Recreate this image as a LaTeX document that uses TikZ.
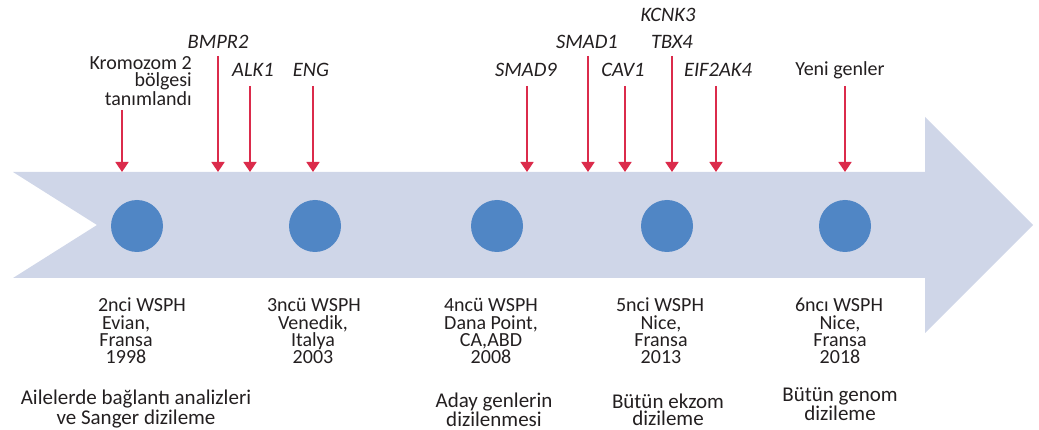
\documentclass[tikz,border=0pt]{standalone}
\usepackage{fontspec}
\setmainfont{Carlito}
\usetikzlibrary{arrows.meta}
\definecolor{bandfill}{HTML}{CFD6E8}
\definecolor{dotfill}{HTML}{5086C5}
\definecolor{pinred}{HTML}{DB2B4B}
\definecolor{ink}{HTML}{231F20}
\tikzset{
  txt/.style={text=ink, inner sep=0pt, align=center, font=\fontsize{20}{17}\selectfont},
  desc/.style={txt, font=\fontsize{21}{17.5}\selectfont},
  gene/.style={text=ink, inner sep=0pt, font=\fontsize{20.5}{18}\selectfont\itshape},
  pin/.style={draw=pinred, line width=1.6pt, -{Triangle[width=13pt,length=10pt]}},
  dot/.style={circle, fill=dotfill, draw=none, minimum size=52pt, inner sep=0pt},
}
\begin{document}
\begin{tikzpicture}[x=1pt, y=-1pt]
\useasboundingbox (0,0) rectangle (1039,430);

% timeline band with notched tail and arrow head
\fill[bandfill] (13,172) -- (925,172) -- (925,117) -- (1033,225) -- (925,333)
  -- (925,278) -- (13,278) -- (97,225) -- cycle;
\coordinate (bandtop) at (0,172);

% congress markers
\node[dot] (c1) at (137,226) {};
\node[dot] (c2) at (315,226) {};
\node[dot] (c3) at (497,226) {};
\node[dot] (c4) at (667,226) {};
\node[dot] (c5) at (845,226) {};

% labels above the band
\node[txt, align=right, anchor=east] (chr) at (192,81) {Kromozom 2\\bölgesi\\tanımlandı};
\node[gene] (bmpr2) at (218,42) {BMPR2};
\node[gene] (alk1) at (253,70) {ALK1};
\node[gene] (eng) at (311,70) {ENG};
\node[gene] (smad9) at (526,70) {SMAD9};
\node[gene] (smad1) at (587,42) {SMAD1};
\node[gene] (cav1) at (623,70) {CAV1};
\node[gene] (kcnk3) at (668,15) {KCNK3};
\node[gene] (tbx4) at (672,42) {TBX4};
\node[gene] (eif) at (718,70) {EIF2AK4};
\node[txt] (yeni) at (840,70) {Yeni genler};

% arrow tails
\coordinate (a1) at (122,110);
\coordinate (a2) at (218,56);
\coordinate (a3) at (250,86);
\coordinate (a4) at (313,86);
\coordinate (a5) at (527,86);
\coordinate (a6) at (588,56);
\coordinate (a7) at (625,86);
\coordinate (a8) at (672,56);
\coordinate (a9) at (716,86);
\coordinate (a10) at (845,86);
\foreach \a in {a1,a2,a3,a4,a5,a6,a7,a8,a9,a10}
  \draw[pin] (\a) -- (\a |- bandtop);

% congress details below the band
\node[txt] (w1) at (142,305) {2nci WSPH};
\node[txt] (p1) at (126,340) {Evian,\\Fransa\\1998};
\node[desc] (d1) at (136,409) {Ailelerde bağlantı analizleri\\ve Sanger dizileme};

\node[txt] (w2) at (314,305) {3ncü WSPH};
\node[txt] (p2) at (313,340) {Venedik,\\Italya\\2003};

\node[txt] (w3) at (491,305) {4ncü WSPH};
\node[txt] (p3) at (491,340) {Dana Point,\\CA,ABD\\2008};
\node[desc] (d3) at (494,410) {Aday genlerin\\dizilenmesi};

\node[txt] (w4) at (660,305) {5nci WSPH};
\node[txt] (p4) at (661,340) {Nice,\\Fransa\\2013};
\node[desc] (d4) at (668,410) {Bütün ekzom\\dizileme};

\node[txt] (w5) at (839,305) {6ncı WSPH};
\node[txt] (p5) at (840,340) {Nice,\\Fransa\\2018};
\node[desc] (d5) at (840,404) {Bütün genom\\dizileme};
\end{tikzpicture}
\end{document}
